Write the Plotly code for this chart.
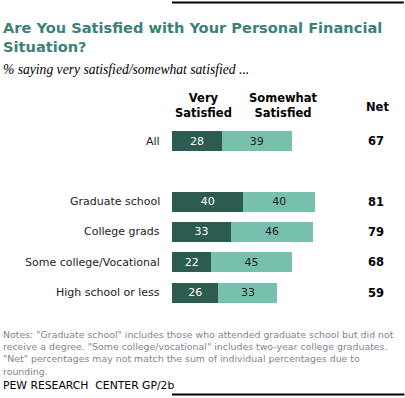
import plotly.graph_objects as go

categories = ["All", "Graduate school", "College grads", "Some college/Vocational", "High school or less"]
very = [28, 40, 33, 22, 26]
somewhat = [39, 40, 46, 45, 33]
net = [67, 81, 79, 68, 59]

DARK = "#2b5c4f"
LIGHT = "#77c0ae"
FONT = "DejaVu Sans"

# row positions: a gap after "All"
rows = [0] + [i + 1 for i in range(1, len(categories))]

fig = go.Figure()
fig.add_trace(go.Bar(
    y=rows, x=very, orientation="h", marker=dict(color=DARK, line=dict(width=0)),
    text=very, textposition="inside", insidetextanchor="middle",
    textfont=dict(color="white", size=11, family=FONT), width=0.66,
    constraintext="none",
))
fig.add_trace(go.Bar(
    y=rows, x=somewhat, orientation="h", marker=dict(color=LIGHT, line=dict(width=0)),
    text=somewhat, textposition="inside", insidetextanchor="middle",
    textfont=dict(color="#222222", size=11, family=FONT), width=0.66,
    constraintext="none",
))

W, H = 405, 398
left = 172
pxu = 1.786
rowpx = 30.3
y0 = 141

# decorative top and bottom rules on an overlay pixel axis
fig.add_trace(go.Scatter(
    x=[0, 403, None, 0, 404], y=[2.5, 2.5, None, 394.5, 394.5],
    mode="lines", line=dict(color="#000000", width=2),
    xaxis="x2", yaxis="y2", hoverinfo="skip", cliponaxis=False,
))

ann = []
for r, c, n in zip(rows, categories, net):
    ann.append(dict(x=162 / W, xref="paper", y=r, yref="y", text=c, showarrow=False,
                    xanchor="right", yanchor="middle",
                    font=dict(family=FONT, size=11, color="#222222")))
    ann.append(dict(x=376 / W, xref="paper", y=r, yref="y", text=f"<b>{n}</b>", showarrow=False,
                    xanchor="center", yanchor="middle",
                    font=dict(family=FONT, size=11.5, color="#000000")))

def pap(yp):
    return 1 - yp / H

ann += [
    dict(x=204 / W, y=pap(106), xref="paper", yref="paper", text="<b>Very<br>Satisfied</b>",
         showarrow=False, xanchor="center", yanchor="middle",
         font=dict(family=FONT, size=11.5, color="#000000")),
    dict(x=283 / W, y=pap(106), xref="paper", yref="paper", text="<b>Somewhat<br>Satisfied</b>",
         showarrow=False, xanchor="center", yanchor="middle",
         font=dict(family=FONT, size=11.5, color="#000000")),
    dict(x=377 / W, y=pap(107), xref="paper", yref="paper", text="<b>Net</b>",
         showarrow=False, xanchor="center", yanchor="middle",
         font=dict(family=FONT, size=11.5, color="#000000")),
    dict(x=1 / W, y=pap(37), xref="paper", yref="paper",
         text="<b>Are You Satisfied with Your Personal Financial<br>Situation?</b>",
         showarrow=False, xanchor="left", yanchor="middle", align="left",
         font=dict(family=FONT, size=14.6, color="#3a8275")),
    dict(x=1 / W, y=pap(69), xref="paper", yref="paper",
         text="<i>% saying very satisfied/somewhat satisfied ...</i>",
         showarrow=False, xanchor="left", yanchor="middle", align="left",
         font=dict(family="Liberation Serif", size=13.6, color="#000000")),
    dict(x=1 / W, y=pap(353), xref="paper", yref="paper",
         text=("Notes: \"Graduate school\" includes those who attended graduate school but did not<br>"
               "receive a degree. \"Some college/vocational\" includes two-year college graduates.<br>"
               "\"Net\" percentages may not match the sum of individual percentages due to<br>"
               "rounding."),
         showarrow=False, xanchor="left", yanchor="middle", align="left",
         font=dict(family=FONT, size=9.4, color="#8a8090")),
    dict(x=1 / W, y=pap(385), xref="paper", yref="paper",
         text="PEW RESEARCH  CENTER GP/2b",
         showarrow=False, xanchor="left", yanchor="middle", align="left",
         font=dict(family=FONT, size=10.8, color="#000000")),
]

fig.update_layout(
    width=W, height=H, barmode="stack", showlegend=False,
    margin=dict(l=0, r=0, t=0, b=0, pad=0),
    paper_bgcolor="white", plot_bgcolor="rgba(0,0,0,0)",
    xaxis=dict(domain=[left / W, 1], range=[0, (W - left) / pxu], visible=False, fixedrange=True),
    yaxis=dict(domain=[0, 1], range=[(H - y0) / rowpx, -y0 / rowpx], visible=False, fixedrange=True),
    xaxis2=dict(domain=[0, 1], range=[0, W], visible=False, fixedrange=True, anchor="y2",
                overlaying="x"),
    yaxis2=dict(domain=[0, 1], range=[H, 0], visible=False, fixedrange=True, anchor="x2",
                overlaying="y"),
    annotations=ann,
    font=dict(family=FONT),
)

fig.write_html("out.html", config={"displayModeBar": False},
               post_script="document.body.style.margin='0';document.body.style.overflow='hidden';")
